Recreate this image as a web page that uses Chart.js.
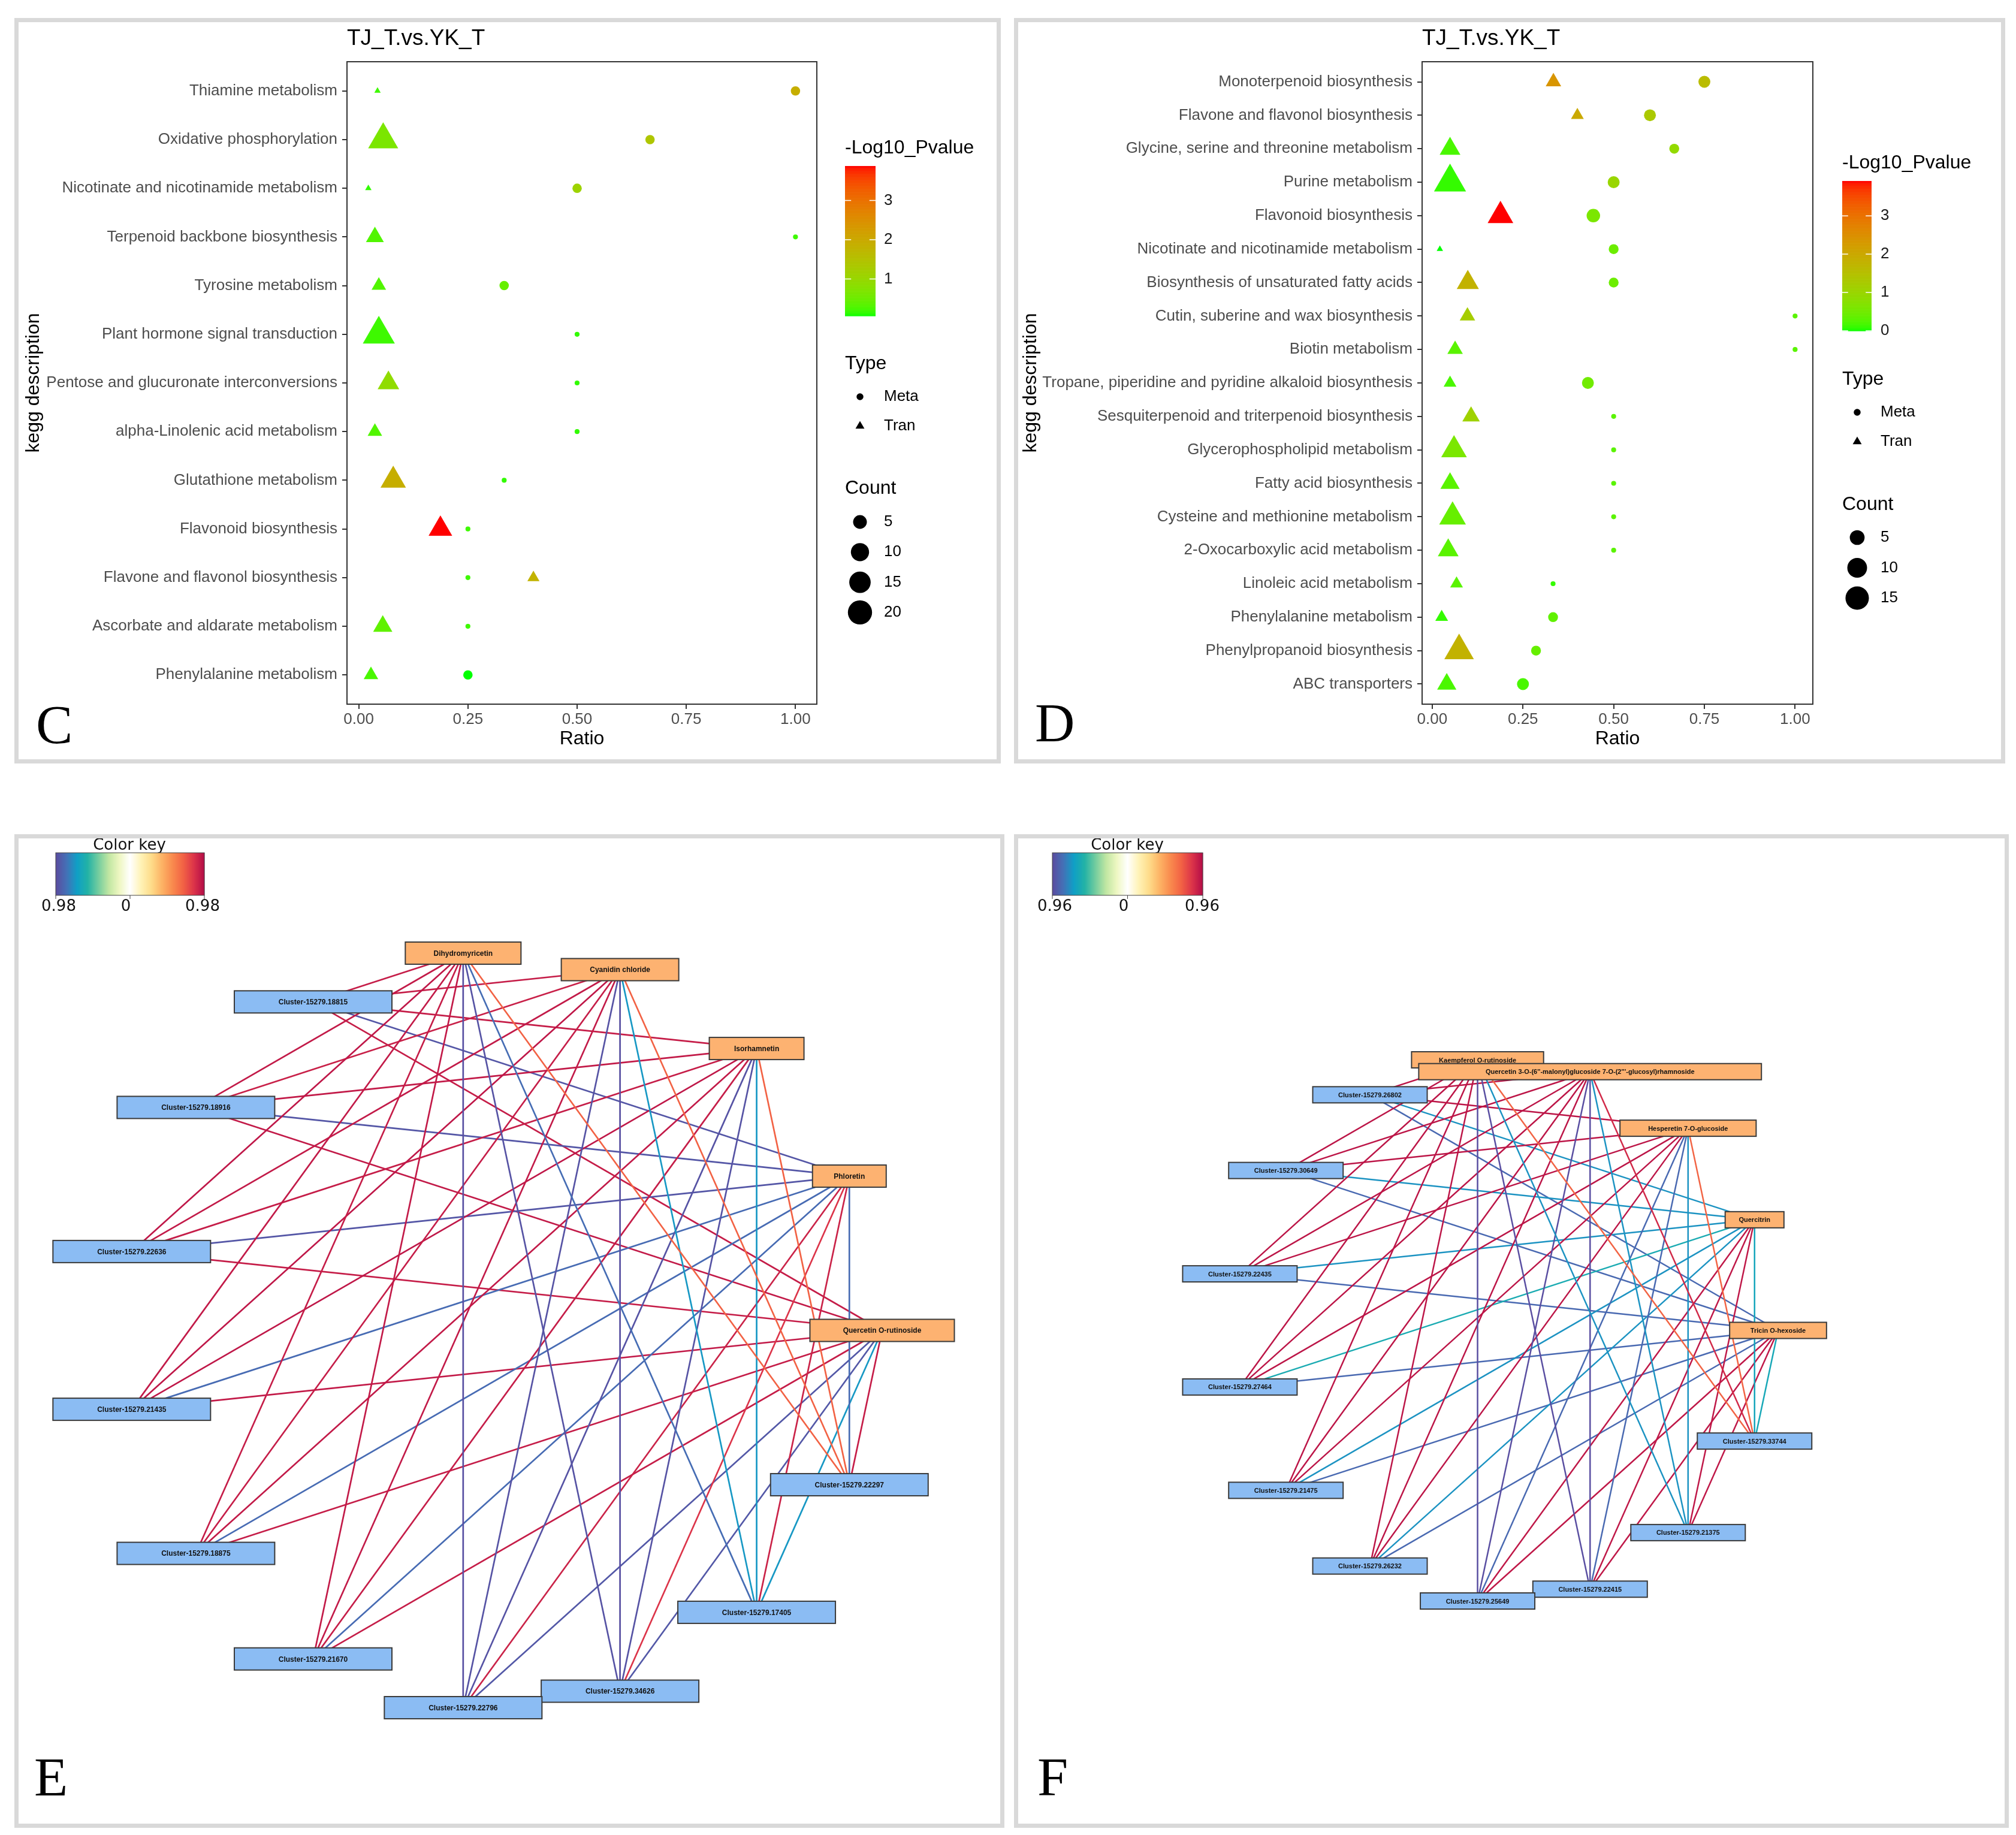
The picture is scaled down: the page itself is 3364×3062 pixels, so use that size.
<!DOCTYPE html>
<html>
<head>
<meta charset="utf-8">
<title>KEGG enrichment and correlation networks</title>
<script src="https://cdn.jsdelivr.net/npm/chart.js@4.4.1/dist/chart.umd.min.js"></script>
<style>
  html, body { margin: 0; padding: 0; background: #fff; }
  body { position: relative; width: 3364px; height: 3062px; overflow: hidden; }
  .panel { position: absolute; box-sizing: border-box; border: 7px solid #d9d9d9; background: #fff; }
  .panel canvas { position: absolute; left: 0; top: 0; }
</style>
</head>
<body>
<div class="panel" style="left:24px;top:30px;width:1646px;height:1244px;"><canvas id="chartC" width="1632" height="1230" style="width:1632px;height:1230px"></canvas></div>
<div class="panel" style="left:1692px;top:30px;width:1654px;height:1244px;"><canvas id="chartD" width="1640" height="1230" style="width:1640px;height:1230px"></canvas></div>
<div class="panel" style="left:24px;top:1392px;width:1652px;height:1658px;"><canvas id="chartE" width="1638" height="1644" style="width:1638px;height:1644px"></canvas></div>
<div class="panel" style="left:1692px;top:1392px;width:1660px;height:1658px;"><canvas id="chartF" width="1646" height="1644" style="width:1646px;height:1644px"></canvas></div>
<script>
const FONT = "'Liberation Sans', Arial, Helvetica, sans-serif";
const SERIF = "'Liberation Serif', 'Times New Roman', serif";
const KEYFONT = "'DejaVu Sans', sans-serif";
Chart.defaults.font.family = FONT;

// ***** DATA : panel C *****
const cTitle = 'TJ_T.vs.YK_T';
const cPathways = ['Thiamine metabolism', 'Oxidative phosphorylation', 'Nicotinate and nicotinamide metabolism',
  'Terpenoid backbone biosynthesis', 'Tyrosine metabolism', 'Plant hormone signal transduction',
  'Pentose and glucuronate interconversions', 'alpha-Linolenic acid metabolism', 'Glutathione metabolism',
  'Flavonoid biosynthesis', 'Flavone and flavonol biosynthesis', 'Ascorbate and aldarate metabolism',
  'Phenylalanine metabolism'];
const cMetaRatio = [1.0, 0.667, 0.5, 1.0, 0.333, 0.5, 0.5, 0.5, 0.333, 0.25, 0.25, 0.25, 0.25];
const cMetaCount = [2, 2, 2, 1, 2, 1, 1, 1, 1, 1, 1, 1, 2];
const cMetaLogP = [1.9, 1.4, 1.1, 0.2, 0.45, 0.15, 0.15, 0.15, 0.15, 0.2, 0.2, 0.2, 0.06];
const cTranRatio = [0.043, 0.056, 0.022, 0.037, 0.046, 0.046, 0.068, 0.037, 0.079, 0.187, 0.40, 0.055, 0.028];
const cTranCount = [1, 18, 1, 5, 3, 21, 8, 3, 12, 10, 2, 6, 3];
const cTranLogP = [0.2, 0.65, 0.15, 0.3, 0.3, 0.2, 0.9, 0.3, 1.9, 3.88, 1.8, 0.4, 0.25];
const cPvalBreaks = [1, 2, 3];
const cCountBreaks = [5, 10, 15, 20];

// ***** DATA : panel D *****
const dTitle = 'TJ_T.vs.YK_T';
const dPathways = ['Monoterpenoid biosynthesis', 'Flavone and flavonol biosynthesis', 'Glycine, serine and threonine metabolism',
  'Purine metabolism', 'Flavonoid biosynthesis', 'Nicotinate and nicotinamide metabolism',
  'Biosynthesis of unsaturated fatty acids', 'Cutin, suberine and wax biosynthesis', 'Biotin metabolism',
  'Tropane, piperidine and pyridine alkaloid biosynthesis', 'Sesquiterpenoid and triterpenoid biosynthesis',
  'Glycerophospholipid metabolism', 'Fatty acid biosynthesis', 'Cysteine and methionine metabolism',
  '2-Oxocarboxylic acid metabolism', 'Linoleic acid metabolism', 'Phenylalanine metabolism',
  'Phenylpropanoid biosynthesis', 'ABC transporters'];
const dMetaRatio = [0.75, 0.60, 0.667, 0.5, 0.444, 0.5, 0.5, 1.0, 1.0, 0.429, 0.5, 0.5, 0.5, 0.5, 0.5, 0.333, 0.333, 0.286, 0.25];
const dMetaCount = [3, 3, 2, 3, 4, 2, 2, 1, 1, 3, 1, 1, 1, 1, 1, 1, 2, 2, 3];
const dMetaLogP = [1.6, 1.3, 0.9, 1.0, 0.6, 0.45, 0.45, 0.3, 0.3, 0.5, 0.3, 0.3, 0.3, 0.3, 0.3, 0.1, 0.35, 0.4, 0.2];
const dTranRatio = [0.334, 0.40, 0.049, 0.049, 0.188, 0.021, 0.098, 0.097, 0.063, 0.049, 0.107, 0.060, 0.049, 0.056, 0.044, 0.067, 0.026, 0.074, 0.040];
const dTranCount = [3, 2, 6, 17, 10, 1, 7, 3, 3, 2, 4, 10, 5, 11, 6, 2, 2, 14, 5];
const dTranLogP = [2.4, 2.0, 0.2, 0.1, 3.91, 0.0, 1.8, 1.2, 0.3, 0.2, 1.1, 0.6, 0.3, 0.4, 0.3, 0.3, 0.1, 1.8, 0.2];
const dPvalBreaks = [0, 1, 2, 3];
const dCountBreaks = [5, 10, 15];

const ratioTicks = [0, 0.25, 0.5, 0.75, 1];

// ***** DATA : panel E (nodes in circular-layout order, edges = [node, node, r]) *****
const eNodes = ['Quercetin O-rutinoside', 'Cluster-15279.22297', 'Cluster-15279.17405', 'Cluster-15279.34626',
  'Cluster-15279.22796', 'Cluster-15279.21670', 'Cluster-15279.18875', 'Cluster-15279.21435',
  'Cluster-15279.22636', 'Cluster-15279.18916', 'Cluster-15279.18815', 'Dihydromyricetin',
  'Cyanidin chloride', 'Isorhamnetin', 'Phloretin'];
const eKinds = ['met', 'gene', 'gene', 'gene', 'gene', 'gene', 'gene', 'gene', 'gene', 'gene', 'gene', 'met', 'met', 'met', 'met'];
const eEdges = [
  [11, 10, 0.92], [11, 9, 0.93], [11, 8, 0.94], [11, 7, 0.93], [11, 6, 0.92], [11, 5, 0.93], [11, 4, -0.96], [11, 3, -0.95], [11, 2, -0.85], [11, 1, 0.70],
  [12, 10, 0.92], [12, 9, 0.91], [12, 8, 0.93], [12, 7, 0.94], [12, 6, 0.92], [12, 5, 0.93], [12, 4, -0.95], [12, 3, -0.96], [12, 2, -0.72], [12, 1, 0.70],
  [13, 10, 0.92], [13, 9, 0.93], [13, 8, 0.92], [13, 7, 0.94], [13, 6, 0.93], [13, 5, 0.92], [13, 4, -0.95], [13, 3, -0.95], [13, 2, -0.72], [13, 1, 0.70],
  [14, 10, -0.94], [14, 9, -0.94], [14, 8, -0.94], [14, 7, -0.86], [14, 6, -0.86], [14, 5, -0.86], [14, 4, 0.90], [14, 3, 0.84], [14, 2, 0.90], [14, 1, -0.86],
  [0, 10, 0.92], [0, 9, 0.93], [0, 8, 0.92], [0, 7, 0.93], [0, 6, 0.92], [0, 5, 0.92], [0, 4, -0.93], [0, 3, -0.93], [0, 2, -0.72], [0, 1, 0.92]
];
const eKeyLabels = ['0.98', '0', '0.98'];
const eKeyMax = 0.98;

// ***** DATA : panel F *****
const fNodes = ['Tricin O-hexoside', 'Cluster-15279.33744', 'Cluster-15279.21375', 'Cluster-15279.22415',
  'Cluster-15279.25649', 'Cluster-15279.26232', 'Cluster-15279.21475', 'Cluster-15279.27464',
  'Cluster-15279.22435', 'Cluster-15279.30649', 'Cluster-15279.26802', 'Kaempferol O-rutinoside',
  "Quercetin 3-O-(6''-malonyl)glucoside 7-O-(2'''-glucosyl)rhamnoside", 'Hesperetin 7-O-glucoside', 'Quercitrin'];
const fKinds = ['met', 'gene', 'gene', 'gene', 'gene', 'gene', 'gene', 'gene', 'gene', 'gene', 'gene', 'met', 'met', 'met', 'met'];
const fEdges = [
  [11, 10, 0.93], [11, 9, 0.93], [11, 8, 0.93], [11, 7, 0.93], [11, 6, 0.93], [11, 5, 0.93], [11, 4, -0.95], [11, 3, -0.95], [11, 2, -0.72], [11, 1, 0.68],
  [12, 10, 0.93], [12, 9, 0.93], [12, 8, 0.93], [12, 7, 0.93], [12, 6, 0.93], [12, 5, 0.93], [12, 4, -0.95], [12, 3, -0.95], [12, 2, -0.72], [12, 1, 0.86],
  [13, 10, 0.93], [13, 9, 0.93], [13, 8, 0.93], [13, 7, 0.93], [13, 6, 0.93], [13, 5, 0.93], [13, 4, -0.85], [13, 3, -0.85], [13, 2, -0.72], [13, 1, 0.68],
  [14, 10, -0.72], [14, 9, -0.72], [14, 8, -0.72], [14, 7, -0.60], [14, 6, -0.72], [14, 5, -0.72], [14, 4, 0.92], [14, 3, 0.92], [14, 2, 0.92], [14, 1, -0.64],
  [0, 10, -0.85], [0, 9, -0.85], [0, 8, -0.85], [0, 7, -0.85], [0, 6, -0.85], [0, 5, -0.85], [0, 4, 0.92], [0, 3, 0.92], [0, 2, 0.92], [0, 1, -0.62]
];
const fKeyLabels = ['0.96', '0', '0.96'];
const fKeyMax = 0.96;


// ***** COLOUR HELPERS *****
function toLinear(c) { c /= 255; return c <= 0.04045 ? c / 12.92 : Math.pow((c + 0.055) / 1.055, 2.4); }
function fromLinear(c) {
  c = c <= 0.0031308 ? 12.92 * c : 1.055 * Math.pow(c, 1 / 2.4) - 0.055;
  return Math.round(Math.max(0, Math.min(1, c)) * 255);
}
function rgbToLab(rgb) {
  const r = toLinear(rgb[0]), g = toLinear(rgb[1]), b = toLinear(rgb[2]);
  const f = t => t > 0.008856 ? Math.cbrt(t) : 7.787 * t + 16 / 116;
  const x = f((0.4124 * r + 0.3576 * g + 0.1805 * b) / 0.95047);
  const y = f(0.2126 * r + 0.7152 * g + 0.0722 * b);
  const z = f((0.0193 * r + 0.1192 * g + 0.9505 * b) / 1.08883);
  return [116 * y - 16, 500 * (x - y), 200 * (y - z)];
}
function labToRgb(lab) {
  const fy = (lab[0] + 16) / 116, fx = lab[1] / 500 + fy, fz = fy - lab[2] / 200;
  const fi = t => t * t * t > 0.008856 ? t * t * t : (t - 16 / 116) / 7.787;
  const x = fi(fx) * 0.95047, y = fi(fy), z = fi(fz) * 1.08883;
  const r = 3.2406 * x - 1.5372 * y - 0.4986 * z;
  const g = -0.9689 * x + 1.8758 * y + 0.0415 * z;
  const b = 0.0557 * x - 0.2040 * y + 1.0570 * z;
  return 'rgb(' + fromLinear(r) + ',' + fromLinear(g) + ',' + fromLinear(b) + ')';
}
// green -> red through Lab, like ggplot's scale_colour_gradient
const LAB_LOW = rgbToLab([0, 255, 0]);
const LAB_HIGH = rgbToLab([255, 0, 0]);
function pvalColor(v, lo, hi) {
  const t = (v - lo) / (hi - lo);
  return labToRgb(LAB_LOW.map((c, i) => c + (LAB_HIGH[i] - c) * t));
}

// spectral-like key used by the correlation networks, t in [-1, 1]
const KEY_STOPS = ['#5b4b9f', '#4470b6', '#0f9fc6', '#22b2a6', '#72cc9f', '#c0e6a2', '#eef7c2', '#ffffff',
  '#fff3b8', '#fedc8a', '#fdb365', '#f98a4e', '#f26244', '#dc3449', '#b30c47'];
function hexRgb(h) { return [parseInt(h.slice(1, 3), 16), parseInt(h.slice(3, 5), 16), parseInt(h.slice(5, 7), 16)]; }
function corrColor(t) {
  t = Math.max(-1, Math.min(1, t));
  const pos = (t + 1) / 2 * (KEY_STOPS.length - 1);
  const i = Math.min(KEY_STOPS.length - 2, Math.floor(pos));
  const f = pos - i;
  const a = hexRgb(KEY_STOPS[i]), b = hexRgb(KEY_STOPS[i + 1]);
  return 'rgb(' + a.map((c, k) => Math.round(c + (b[k] - c) * f)).join(',') + ')';
}


// ***** BUBBLE (KEGG) PANELS *****
function trianglePath(ctx, x, y, r) {
  ctx.beginPath();
  ctx.moveTo(x, y - r);
  ctx.lineTo(x + r * Math.sin(2 * Math.PI / 3), y + r / 2);
  ctx.lineTo(x - r * Math.sin(2 * Math.PI / 3), y + r / 2);
  ctx.closePath();
}

function bubblePanel(id, p, g) {
  const canvas = document.getElementById(id);
  const W = canvas.width, H = canvas.height;
  const allP = p.metaLogP.concat(p.tranLogP);
  const lo = Math.min(...allP), hi = Math.max(...allP);
  const allC = p.metaCount.concat(p.tranCount);
  const cmin = Math.min(...allC), cmax = Math.max(...allC);
  const allR = p.metaRatio.concat(p.tranRatio);
  const rlo = Math.min(...allR), rhi = Math.max(...allR);
  const expand = 0.05 * (rhi - rlo);
  const n = p.pathways.length;

  // ggplot-like area scale, size 1..6
  const sizeOf = c => 1 + 5 * Math.sqrt((c - cmin) / (cmax - cmin));
  const circleR = c => 3.3 * sizeOf(c) + 0.8;
  const triR = c => circleR(c) * 1.5;

  const decor = {
    id: 'keggDecor',
    afterDraw(chart) {
      const ctx = chart.ctx;
      const ca = chart.chartArea;
      ctx.save();
      // panel border
      ctx.strokeStyle = '#333';
      ctx.lineWidth = 2;
      ctx.strokeRect(ca.left, ca.top, ca.right - ca.left, ca.bottom - ca.top);
      // plot title
      ctx.fillStyle = '#000';
      ctx.textBaseline = 'middle';
      ctx.textAlign = 'left';
      ctx.font = '37px ' + FONT;
      ctx.fillText(p.title, ca.left, g.titleY);

      // colour bar legend
      ctx.font = '32px ' + FONT;
      ctx.fillText('-Log10_Pvalue', g.legX, g.pvTitleY);
      const steps = 300;
      for (let i = 0; i < steps; i++) {
        const v = lo + (hi - lo) * (i + 0.5) / steps;
        ctx.fillStyle = pvalColor(v, lo, hi);
        const y0 = g.barTop + g.barH * (1 - (i + 1) / steps);
        ctx.fillRect(g.legX, y0, g.barW, g.barH / steps + 0.7);
      }
      ctx.font = '26px ' + FONT;
      p.pvalBreaks.forEach(b => {
        const y = g.barTop + g.barH * (1 - (b - lo) / (hi - lo));
        ctx.strokeStyle = '#fff';
        ctx.lineWidth = 1.5;
        ctx.beginPath();
        ctx.moveTo(g.legX, y); ctx.lineTo(g.legX + g.barW / 5, y);
        ctx.moveTo(g.legX + g.barW, y); ctx.lineTo(g.legX + g.barW * 4 / 5, y);
        ctx.stroke();
        ctx.fillStyle = '#1a1a1a';
        ctx.fillText(String(b), g.labelX, y);
      });

      // shape legend
      ctx.fillStyle = '#000';
      ctx.font = '32px ' + FONT;
      ctx.fillText('Type', g.legX, g.typeTitleY);
      ctx.font = '26px ' + FONT;
      const smallR = 3.3 * 1.5 + 0.8;
      ctx.beginPath();
      ctx.arc(g.keyX, g.typeKeyY, smallR, 0, 2 * Math.PI);
      ctx.fill();
      ctx.fillText('Meta', g.labelX, g.typeKeyY);
      trianglePath(ctx, g.keyX, g.typeKeyY + g.typeGap, smallR * 1.5);
      ctx.fill();
      ctx.fillText('Tran', g.labelX, g.typeKeyY + g.typeGap);

      // size legend
      ctx.font = '32px ' + FONT;
      ctx.fillText('Count', g.legX, g.countTitleY);
      ctx.font = '26px ' + FONT;
      p.countBreaks.forEach((c, i) => {
        const y = g.countKeyY + i * g.countGap;
        ctx.beginPath();
        ctx.arc(g.keyX, y, circleR(c), 0, 2 * Math.PI);
        ctx.fill();
        ctx.fillText(String(c), g.labelX, y);
      });

      // panel letter
      ctx.textBaseline = 'alphabetic';
      ctx.font = '92px ' + SERIF;
      ctx.fillText(g.letter, g.letterX, g.letterY);
      ctx.restore();
    }
  };

  const tickGrid = { display: true, drawOnChartArea: false, drawTicks: true, tickLength: 8, color: '#333', lineWidth: 2 };

  new Chart(canvas, {
    type: 'scatter',
    data: {
      datasets: [
        {
          label: 'Meta',
          data: p.metaRatio.map((r, i) => ({ x: r, y: i + 1 })),
          pointStyle: 'circle',
          pointRadius: c => c.dataIndex === undefined ? 4 : circleR(p.metaCount[c.dataIndex]),
          pointBackgroundColor: c => c.dataIndex === undefined ? '#000' : pvalColor(p.metaLogP[c.dataIndex], lo, hi),
          pointBorderWidth: 0
        },
        {
          label: 'Tran',
          data: p.tranRatio.map((r, i) => ({ x: r, y: i + 1 })),
          pointStyle: 'triangle',
          pointRadius: c => c.dataIndex === undefined ? 4 : triR(p.tranCount[c.dataIndex]),
          pointBackgroundColor: c => c.dataIndex === undefined ? '#000' : pvalColor(p.tranLogP[c.dataIndex], lo, hi),
          pointBorderWidth: 0
        }
      ]
    },
    options: {
      responsive: false,
      animation: false,
      devicePixelRatio: 1,
      layout: { padding: { left: 0, top: g.plotTop, right: W - g.plotRight, bottom: 0 } },
      plugins: { legend: { display: false }, tooltip: { enabled: false } },
      scales: {
        x: {
          type: 'linear',
          position: 'bottom',
          min: rlo - expand,
          max: rhi + expand,
          afterBuildTicks: s => { s.ticks = ratioTicks.map(v => ({ value: v })); },
          afterFit: s => { s.height = H - g.plotBottom; },
          ticks: { callback: v => Number(v).toFixed(2), font: { size: 26 }, color: '#4d4d4d', padding: 2, maxRotation: 0, autoSkip: false },
          grid: tickGrid,
          border: { display: false },
          title: { display: true, text: 'Ratio', font: { size: 32 }, color: '#000', padding: { top: 0, bottom: 15 } }
        },
        y: {
          type: 'linear',
          reverse: true,
          min: 0.4,
          max: n + 0.6,
          afterBuildTicks: s => { s.ticks = p.pathways.map((_, i) => ({ value: i + 1 })); },
          afterFit: s => { s.width = g.plotLeft; },
          ticks: { callback: v => p.pathways[Math.round(v) - 1], font: { size: 26 }, color: '#4d4d4d', padding: 8, autoSkip: false },
          grid: tickGrid,
          border: { display: false },
          title: { display: true, text: 'kegg description', font: { size: 32 }, color: '#000', padding: { top: g.yTitlePad, bottom: 0 } }
        }
      }
    },
    plugins: [decor]
  });
}


// ***** NETWORK PANELS *****
function circleLayout(n) {
  const pts = [];
  for (let k = 0; k < n; k++) {
    const a = 2 * Math.PI * k / n;
    pts.push({ x: Math.cos(a), y: Math.sin(a) });
  }
  return pts;
}

function networkPanel(id, p, g) {
  const canvas = document.getElementById(id);
  const W = canvas.width, H = canvas.height;
  const pos = circleLayout(p.nodes.length);

  const datasets = p.edges.map(e => ({
    data: [{ x: pos[e[0]].x, y: pos[e[0]].y }, { x: pos[e[1]].x, y: pos[e[1]].y }],
    showLine: true,
    borderColor: corrColor(e[2] / p.keyMax),
    borderWidth: g.edgeWidth,
    pointRadius: 0,
    clip: false
  }));
  const nodeIndex = datasets.length;
  datasets.push({ data: pos.map(q => ({ x: q.x, y: q.y })), pointRadius: 0, showLine: false });

  const decor = {
    id: 'netDecor',
    afterDatasetsDraw(chart) {
      const ctx = chart.ctx;
      const meta = chart.getDatasetMeta(nodeIndex);
      ctx.save();
      ctx.font = g.nodeFont;
      ctx.textAlign = 'center';
      ctx.textBaseline = 'middle';
      meta.data.forEach((pt, i) => {
        const label = p.nodes[i];
        const tw = ctx.measureText(label).width;
        const isGene = p.kinds[i] === 'gene';
        const w = isGene ? g.geneWidth : tw * g.metK + g.metPad;
        const h = g.boxH;
        ctx.fillStyle = isGene ? '#8bbcf3' : '#fdb271';
        ctx.fillRect(pt.x - w / 2, pt.y - h / 2, w, h);
        ctx.strokeStyle = '#3a3a3a';
        ctx.lineWidth = 2;
        ctx.strokeRect(pt.x - w / 2, pt.y - h / 2, w, h);
        ctx.fillStyle = '#111';
        ctx.fillText(label, pt.x, pt.y + 1);
      });
      ctx.restore();
    },
    afterDraw(chart) {
      const ctx = chart.ctx;
      ctx.save();
      ctx.fillStyle = '#111';
      ctx.textAlign = 'center';
      ctx.textBaseline = 'middle';
      ctx.font = '26px ' + KEYFONT;
      ctx.fillText('Color key', g.keyTextX, g.keyTextY);
      for (let i = 0; i < g.keyW; i++) {
        ctx.fillStyle = corrColor(-1 + 2 * (i + 0.5) / g.keyW);
        ctx.fillRect(g.keyX + i, g.keyY, 1.3, g.keyH);
      }
      ctx.strokeStyle = '#444';
      ctx.lineWidth = 1;
      ctx.strokeRect(g.keyX, g.keyY, g.keyW, g.keyH);
      ctx.beginPath();
      [0, 0.5, 1].forEach(f => {
        const x = g.keyX + f * g.keyW;
        ctx.moveTo(x, g.keyY + g.keyH);
        ctx.lineTo(x, g.keyY + g.keyH + 6);
      });
      ctx.stroke();
      ctx.fillStyle = '#111';
      p.keyLabels.forEach((t, i) => ctx.fillText(t, g.keyLabelX[i], g.keyLabelY));
      ctx.textAlign = 'left';
      ctx.textBaseline = 'alphabetic';
      ctx.font = '92px ' + SERIF;
      ctx.fillStyle = '#000';
      ctx.fillText(g.letter, g.letterX, g.letterY);
      ctx.restore();
    }
  };

  new Chart(canvas, {
    type: 'scatter',
    data: { datasets },
    options: {
      responsive: false,
      animation: false,
      devicePixelRatio: 1,
      layout: { padding: 0 },
      plugins: { legend: { display: false }, tooltip: { enabled: false } },
      scales: {
        x: { type: 'linear', display: false, min: -g.cx / g.R, max: (W - g.cx) / g.R },
        y: { type: 'linear', display: false, reverse: true, min: -g.cy / g.R, max: (H - g.cy) / g.R }
      }
    },
    plugins: [decor]
  });
}


// ***** BUILD *****
bubblePanel('chartC', {
  title: cTitle, pathways: cPathways,
  metaRatio: cMetaRatio, metaCount: cMetaCount, metaLogP: cMetaLogP,
  tranRatio: cTranRatio, tranCount: cTranCount, tranLogP: cTranLogP,
  pvalBreaks: cPvalBreaks, countBreaks: cCountBreaks
}, {
  letter: 'C', letterX: 29, letterY: 1203,
  plotLeft: 548, plotRight: 1332, plotTop: 66, plotBottom: 1138, titleY: 28, yTitlePad: 6,
  legX: 1379, keyX: 1404, labelX: 1444, pvTitleY: 210, barTop: 240, barH: 250, barW: 51,
  typeTitleY: 570, typeKeyY: 625, typeGap: 49, countTitleY: 778, countKeyY: 834, countGap: 50.3
});

bubblePanel('chartD', {
  title: dTitle, pathways: dPathways,
  metaRatio: dMetaRatio, metaCount: dMetaCount, metaLogP: dMetaLogP,
  tranRatio: dTranRatio, tranCount: dTranCount, tranLogP: dTranLogP,
  pvalBreaks: dPvalBreaks, countBreaks: dCountBreaks
}, {
  letter: 'D', letterX: 28, letterY: 1200,
  plotLeft: 674, plotRight: 1326, plotTop: 66, plotBottom: 1138, titleY: 28, yTitlePad: 2,
  legX: 1375, keyX: 1400, labelX: 1439, pvTitleY: 235, barTop: 265, barH: 250, barW: 49,
  typeTitleY: 596, typeKeyY: 651, typeGap: 49, countTitleY: 805, countKeyY: 860, countGap: 50.5
});

networkPanel('chartE', { nodes: eNodes, kinds: eKinds, edges: eEdges, keyLabels: eKeyLabels, keyMax: eKeyMax }, {
  cx: 808, cy: 821, R: 633, edgeWidth: 2.7,
  nodeFont: 'bold 12px ' + FONT, geneWidth: 263, metK: 1.5, metPad: 45, boxH: 37,
  keyTextX: 185, keyTextY: 12, keyX: 62, keyY: 24, keyW: 248, keyH: 71,
  keyLabelX: [67, 179, 307], keyLabelY: 114,
  letter: 'E', letterX: 26, letterY: 1597
});

networkPanel('chartF', { nodes: fNodes, kinds: fKinds, edges: fEdges, keyLabels: fKeyLabels, keyMax: fKeyMax }, {
  cx: 814, cy: 821, R: 454, edgeWidth: 2.5,
  nodeFont: 'bold 11px ' + FONT, geneWidth: 191, metK: 1.6, metPad: 14, boxH: 27,
  keyTextX: 182, keyTextY: 12, keyX: 57, keyY: 24, keyW: 251, keyH: 71,
  keyLabelX: [61, 176, 307], keyLabelY: 114,
  letter: 'F', letterX: 32, letterY: 1597
});
</script>
</body>
</html>
